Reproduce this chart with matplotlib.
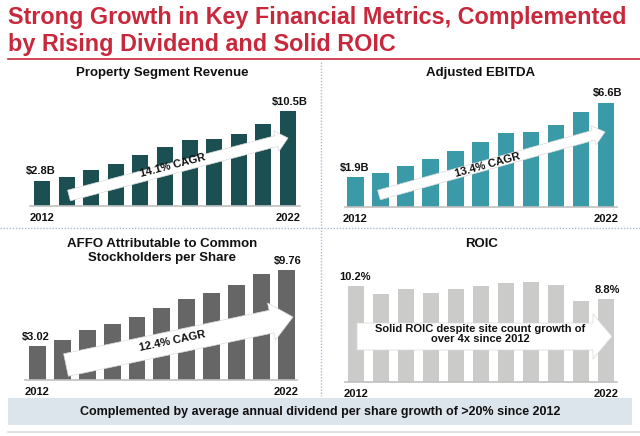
import numpy as np
import matplotlib
matplotlib.use("Agg")
import matplotlib.pyplot as plt
from matplotlib.patches import Polygon, Rectangle
from matplotlib.lines import Line2D
from matplotlib.transforms import Affine2D

plt.rcParams['font.family'] = ['Liberation Sans', 'DejaVu Sans']

# ---------------- data ----------------
years = list(range(2012, 2023))
property_revenue = [2.8, 3.24, 3.98, 4.64, 5.67, 6.52, 7.29, 7.44, 7.92, 9.1, 10.5]
adj_ebitda = [1.9, 2.15, 2.62, 3.06, 3.56, 4.08, 4.67, 4.76, 5.16, 6.0, 6.6]
affo_per_share = [3.02, 3.6, 4.45, 5.0, 5.62, 6.4, 7.22, 7.75, 8.45, 9.45, 9.76]
roic = [10.2, 9.35, 9.9, 9.4, 9.9, 10.2, 10.55, 10.6, 10.35, 8.65, 8.8]

first_labels = ["$2.8B", "$1.9B", "$3.02", "10.2%"]
last_labels = ["$10.5B", "$6.6B", "$9.76", "8.8%"]
panel_titles = ["Property Segment Revenue", "Adjusted EBITDA",
                "AFFO Attributable to Common\nStockholders per Share", "ROIC"]
arrow_texts = ["14.1% CAGR", "13.4% CAGR", "12.4% CAGR",
               "Solid ROIC despite site count growth of\nover 4x since 2012"]
main_title = "Strong Growth in Key Financial Metrics, Complemented\nby Rising Dividend and Solid ROIC"
footer = "Complemented by average annual dividend per share growth of >20% since 2012"

W, H = 640, 436
fig = plt.figure(figsize=(W / 100, H / 100), dpi=100)
fig.patch.set_facecolor('white')
PX = Affine2D().scale(1 / W, -1 / H).translate(0, 1) + fig.transFigure

RED = '#c8283c'
DIV = '#a9bcd0'

def add_axes_px(l, t, r, b):
    return fig.add_axes([l / W, 1 - b / H, (r - l) / W, (b - t) / H])

# title
fig.text(8 / W, 1 - 6 / H, main_title, color=RED, fontsize=16.8, fontweight='bold',
         ha='left', va='top', linespacing=1.2)
fig.add_artist(Line2D([8, 640], [59, 59], transform=PX, color=RED, lw=1.2))

# dividers
fig.add_artist(Line2D([321, 321], [62, 396], transform=PX, color=DIV, lw=1.0, ls=(0, (1, 1.2))))
fig.add_artist(Line2D([0, 640], [228, 228], transform=PX, color=DIV, lw=1.0, ls=(0, (1, 1.2))))

panels = [
    dict(l=30, r=300, base=206, ppu=9.05, xlo=-0.49, xhi=10.49, w=0.65, c='#1c4f52', v=property_revenue,
         title_xy=(162, 73)),
    dict(l=345, r=617, base=207, ppu=15.83, xlo=-0.42, xhi=10.44, w=0.66, c='#3a9aa8', v=adj_ebitda,
         title_xy=(481, 73)),
    dict(l=25, r=297, base=380, ppu=11.23, xlo=-0.5, xhi=10.43, w=0.68, c='#666666', v=affo_per_share,
         title_xy=(162, 251)),
    dict(l=345, r=617, base=382, ppu=9.42, xlo=-0.44, xhi=10.44, w=0.66, c='#cbcbc9', v=roic,
         title_xy=(482, 244)),
]

x = np.arange(len(years))
for i, p in enumerate(panels):
    top = 95 if i < 2 else 262
    ymax = (p['base'] - top) / p['ppu']
    ax = add_axes_px(p['l'], top, p['r'], p['base'])
    ax.bar(x, p['v'], width=p['w'], color=p['c'], zorder=2)
    ax.set_xlim(p['xlo'], p['xhi'])
    ax.set_ylim(0, ymax)
    for s in ['top', 'right', 'left']:
        ax.spines[s].set_visible(False)
    ax.spines['bottom'].set_color('#c0c0c0')
    ax.spines['bottom'].set_linewidth(1.2)
    ax.set_xticks([])
    ax.set_yticks([])
    ax.patch.set_alpha(0)
    ax.annotate(first_labels[i], (x[0], p['v'][0]), xytext=(-1, 3), textcoords='offset points',
                ha='center', va='bottom', fontsize=8, fontweight='bold', color='#111111')
    ax.annotate(last_labels[i], (x[-1], p['v'][-1]), xytext=(1, 3), textcoords='offset points',
                ha='center', va='bottom', fontsize=8, fontweight='bold', color='#111111')
    ax.annotate(str(years[0]), (x[0], 0), xytext=(0, -5), textcoords='offset points',
                ha='center', va='top', fontsize=8, fontweight='bold', color='#111111')
    ax.annotate(str(years[-1]), (x[-1], 0), xytext=(0, -5), textcoords='offset points',
                ha='center', va='top', fontsize=8, fontweight='bold', color='#111111')
    tx, ty = p['title_xy']
    fig.text(tx / W, 1 - ty / H, panel_titles[i], ha='center', va='center', fontsize=9.5,
             fontweight='bold', color='#111111', linespacing=1.25)

def arrow(tail, tip, w, hw, hl):
    t = np.array(tail, float); h = np.array(tip, float)
    d = h - t; L = np.hypot(*d); u = d / L; n = np.array([-u[1], u[0]])
    hb = h - hl * u
    pts = [t + n * w / 2, hb + n * w / 2, hb + n * hw / 2, h,
           hb - n * hw / 2, hb - n * w / 2, t - n * w / 2]
    fig.add_artist(Polygon(pts, closed=True, transform=PX, facecolor='white',
                           edgecolor='#d8d8d8', lw=0.5, zorder=5))
    return np.degrees(np.arctan2(-d[1], d[0]))

arrow_specs = [
    ((69, 195.5), (288, 138), 11, 21, 12, (173, 166)),
    ((379, 195), (605, 132), 10, 20, 12, (488, 165)),
    ((66, 365), (293, 317), 23, 38, 22, (172, 341)),
    ((357, 336.5), (612, 336.5), 27, 45, 19, (480, 334)),
]
for i, (tail, tip, w, hw, hl, tpos) in enumerate(arrow_specs):
    ang = arrow(tail, tip, w, hw, hl)
    fig.text(tpos[0] / W, 1 - tpos[1] / H, arrow_texts[i], rotation=ang, rotation_mode='anchor',
             ha='center', va='center', fontsize=8, fontweight='bold', color='#111111',
             linespacing=1.1, zorder=6)

# footer band
fig.add_artist(Rectangle((8, 398), 624, 27, transform=PX, facecolor='#dce4ec', edgecolor='none', zorder=1))
fig.text(320 / W, 1 - 411.5 / H, footer, ha='center', va='center', fontsize=9,
         fontweight='bold', color='#111111', zorder=6)
fig.add_artist(Line2D([8, 640], [432, 432], transform=PX, color='#dadada', lw=1.2))

fig.savefig('out.png', dpi=100, facecolor='white')
